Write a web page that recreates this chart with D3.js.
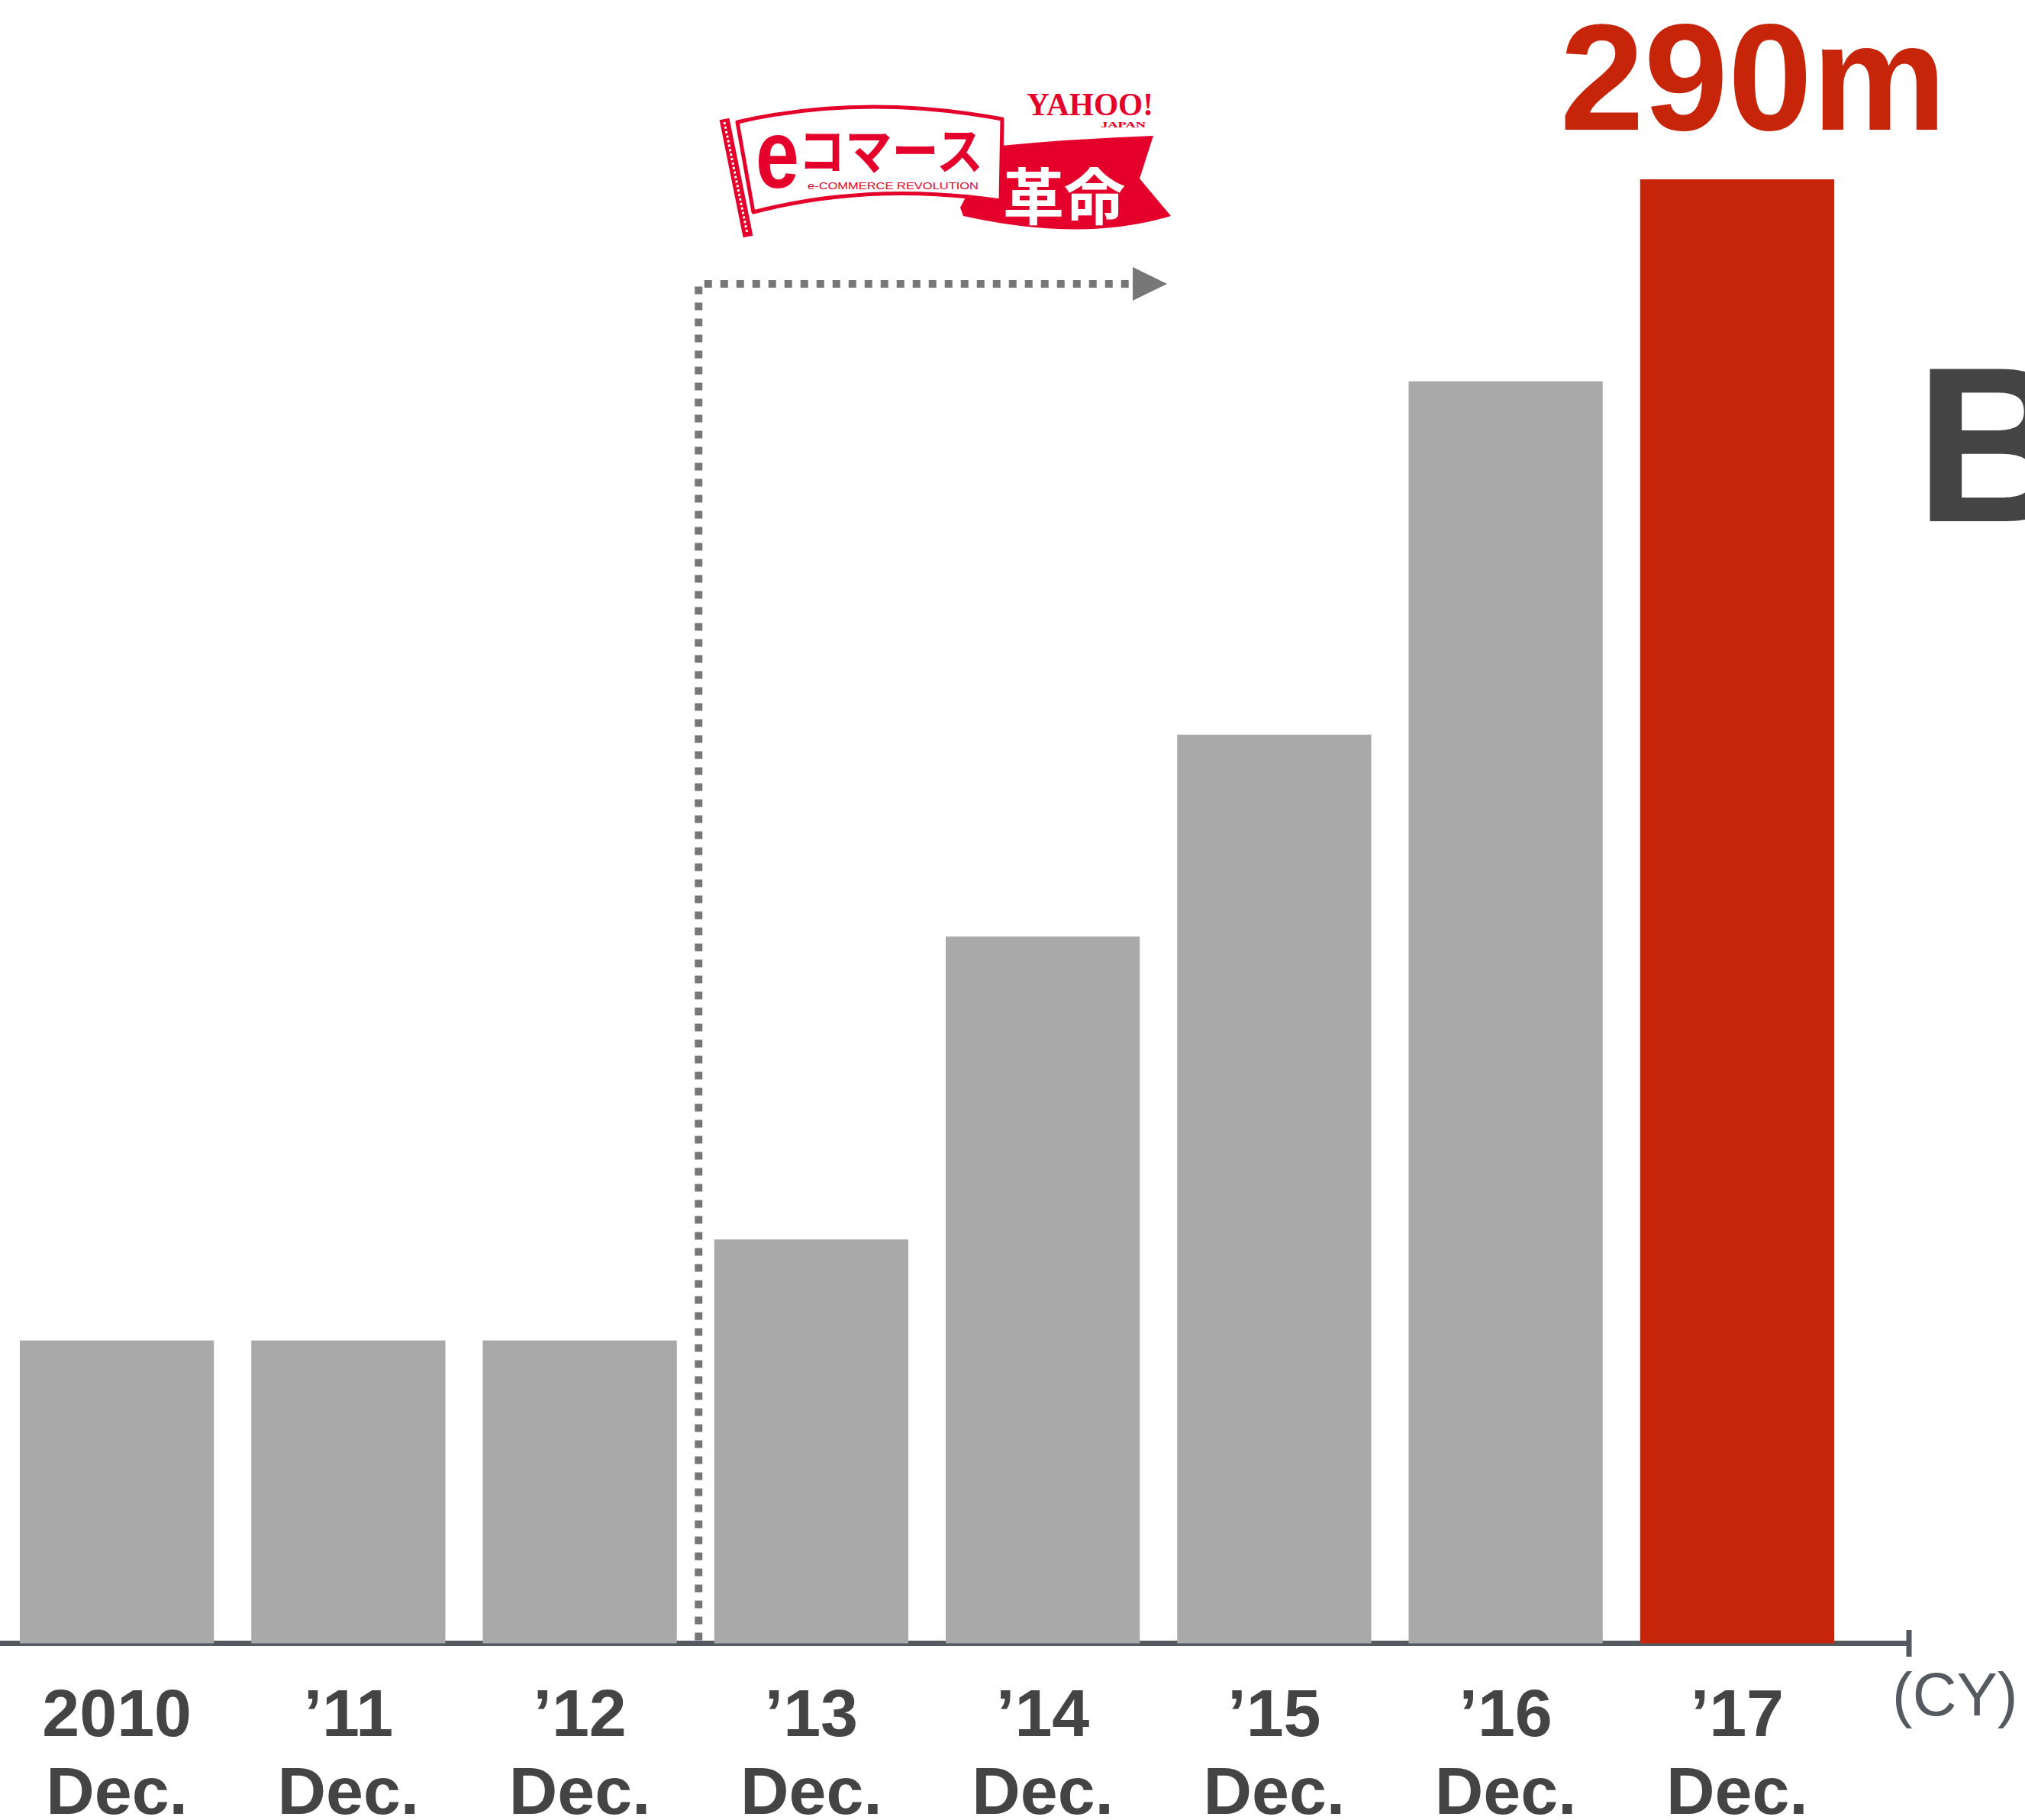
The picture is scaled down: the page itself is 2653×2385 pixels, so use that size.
<!DOCTYPE html>
<html>
<head>
<meta charset="utf-8">
<script src="https://cdn.jsdelivr.net/npm/d3@7"></script>
<style>
  html, body { margin: 0; padding: 0; background: #ffffff; }
  svg { display: block; }
</style>
</head>
<body>
<svg id="chart" width="2653" height="2385"></svg>
<script>
// Year-end totals (millions), one bar per December
const years = ["2010", "\u201911", "\u201912", "\u201913", "\u201914", "\u201915", "\u201916", "\u201917"];
const months = ["Dec.", "Dec.", "Dec.", "Dec.", "Dec.", "Dec.", "Dec.", "Dec."];
const values = [60, 60, 60, 80, 140, 180, 250, 290];
const unitSuffix = "m";
const axisUnit = "(CY)";
const launchYear = "\u201913";   // campaign start marked by the dotted arrow

const W = 2653, H = 2385;
const GREY = "#a8a9a8", RED = "#c7250a", INK = "#444444", AXIS = "#545960", DOT = "#777777";
const SANS = "'Liberation Sans', Arial, Helvetica, sans-serif";
const CJK = "'Noto Sans CJK JP', 'Noto Sans', sans-serif";
const SERIF = "'Liberation Serif', 'DejaVu Serif', serif";

const svg = d3.select("#chart");

const x = d3.scaleBand()
  .domain(years)
  .range([26, 2403])
  .paddingInner(0.1616)
  .paddingOuter(0);

const baseY = 2153.5;
const y = d3.scaleLinear()
  .domain([0, d3.max(values)])
  .range([baseY, 235]);

// baseline with end tick
svg.append("line")
  .attr("x1", 0).attr("x2", 2504)
  .attr("y1", baseY).attr("y2", baseY)
  .attr("stroke", AXIS).attr("stroke-width", 7);
svg.append("line")
  .attr("x1", 2501).attr("x2", 2501)
  .attr("y1", 2136).attr("y2", 2171)
  .attr("stroke", AXIS).attr("stroke-width", 7);

// bars
const last = values.length - 1;
svg.append("g").selectAll("rect")
  .data(values)
  .join("rect")
  .attr("x", (d, i) => x(years[i]))
  .attr("width", x.bandwidth())
  .attr("y", d => y(d))
  .attr("height", d => baseY - y(d))
  .attr("fill", (d, i) => i === last ? RED : GREY);

// value label over the latest bar
svg.append("text")
  .attr("x", x(years[last]) + x.bandwidth() / 2 + 21)
  .attr("y", 170)
  .attr("text-anchor", "middle")
  .attr("font-family", SANS)
  .attr("font-weight", "bold")
  .attr("font-size", 198)
  .attr("fill", RED)
  .text(values[last] + unitSuffix);

// category axis: year on the first line, month below
const axisG = svg.append("g")
  .attr("transform", `translate(0,${baseY})`)
  .call(d3.axisBottom(x).tickSize(0).tickPadding(0));
axisG.select(".domain").remove();
axisG.selectAll(".tick text").each(function(d, i) {
  const t = d3.select(this);
  t.text(null)
    .attr("y", 0).attr("dy", null)
    .attr("font-family", SANS)
    .attr("font-weight", "bold")
    .attr("font-size", 88)
    .attr("fill", INK);
  t.append("tspan").attr("x", 0).attr("y", 2275 - baseY).text(d);
  t.append("tspan").attr("x", 0).attr("y", 2377 - baseY).text(months[i]);
});

// unit note at the end of the axis
svg.append("text")
  .attr("x", 2479).attr("y", 2248)
  .attr("font-family", SANS)
  .attr("font-size", 80)
  .attr("fill", "#555a60")
  .text(axisUnit);

// large letter running off the right edge
svg.append("text")
  .attr("x", 2509).attr("y", 683)
  .attr("font-family", SANS)
  .attr("font-weight", "bold")
  .attr("font-size", 290)
  .attr("fill", INK)
  .text("B");

// dotted elbow arrow from the launch year to the campaign badge
const ax = x(launchYear) - 20.5;
svg.append("path")
  .attr("d", `M${ax},${baseY - 4} V372 H1484`)
  .attr("fill", "none")
  .attr("stroke", DOT)
  .attr("stroke-width", 10)
  .attr("stroke-dasharray", "10,11");
svg.append("path")
  .attr("d", "M1484,350 L1529,372 L1484,394 Z")
  .attr("fill", DOT);

// campaign badge: flag + ribbon
const logo = svg.append("g");
const LRED = "#e4002b";

// ribbon behind the flag
logo.append("path")
  .attr("d", "M1258,272 L1300,192 Q1400,182 1511,178 L1493,234 L1534,283 Q1420,318 1262,283 Z")
  .attr("fill", LRED);

// flag pole
logo.append("line")
  .attr("x1", 949).attr("y1", 156).attr("x2", 980).attr("y2", 310)
  .attr("stroke", LRED).attr("stroke-width", 13);
logo.append("line")
  .attr("x1", 949).attr("y1", 160).attr("x2", 979).attr("y2", 306)
  .attr("stroke", "#ffffff").attr("stroke-width", 3)
  .attr("stroke-dasharray", "3,3");

// flag cloth
logo.append("path")
  .attr("d", "M966,160 Q1130,122 1313,156 L1311,263 Q1140,238 987,278 Z")
  .attr("fill", "#ffffff")
  .attr("stroke", LRED).attr("stroke-width", 5)
  .attr("stroke-linejoin", "round");

logo.append("text")
  .attr("transform", "translate(990,246) scale(0.8,1)")
  .attr("font-family", SANS)
  .attr("font-weight", "bold")
  .attr("font-size", 128)
  .attr("fill", LRED)
  .text("e");

logo.append("text")
  .attr("x", 1046).attr("y", 193)
  .attr("dominant-baseline", "central")
  .attr("textLength", 242).attr("lengthAdjust", "spacingAndGlyphs")
  .attr("font-family", CJK)
  .attr("font-weight", "bold")
  .attr("font-size", 66)
  .attr("fill", LRED)
  .text("コマース");

logo.append("text")
  .attr("x", 1058).attr("y", 248)
  .attr("textLength", 224).attr("lengthAdjust", "spacingAndGlyphs")
  .attr("font-family", SANS)
  .attr("font-size", 13)
  .attr("fill", LRED)
  .text("e-COMMERCE REVOLUTION");

logo.append("text")
  .attr("x", 1394).attr("y", 252)
  .attr("text-anchor", "middle")
  .attr("dominant-baseline", "central")
  .attr("font-family", CJK)
  .attr("font-weight", "bold")
  .attr("font-size", 80)
  .attr("fill", "#ffffff")
  .text("革命");

logo.append("text")
  .attr("x", 1345).attr("y", 151)
  .attr("textLength", 166).attr("lengthAdjust", "spacingAndGlyphs")
  .attr("font-family", SERIF)
  .attr("font-weight", "bold")
  .attr("font-size", 42)
  .attr("fill", LRED)
  .text("YAHOO!");

logo.append("text")
  .attr("x", 1442).attr("y", 167)
  .attr("textLength", 59).attr("lengthAdjust", "spacingAndGlyphs")
  .attr("font-family", SERIF)
  .attr("font-weight", "bold")
  .attr("font-size", 11)
  .attr("fill", LRED)
  .text("JAPAN");
</script>
</body>
</html>
